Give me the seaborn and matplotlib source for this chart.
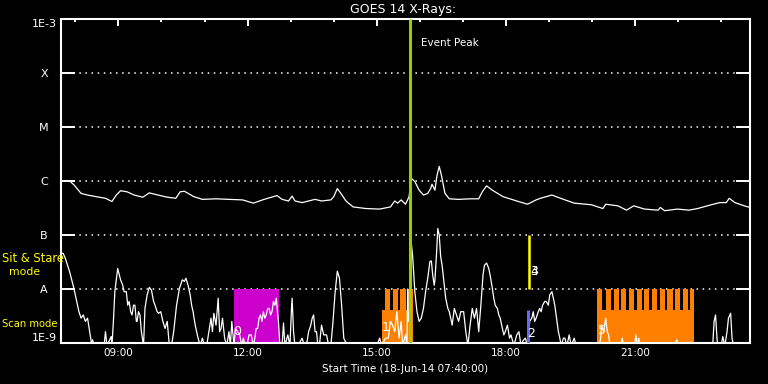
import pandas as pd
import numpy as np
import seaborn as sns
import matplotlib.pyplot as plt
import matplotlib.dates as mdates
from matplotlib.ticker import FixedLocator, NullLocator

# start of the plot window
start = pd.Timestamp("2014-06-18 07:40:00")
span_hours = 16

# long channel (1-8 A): minutes after start, log10 flux
long_min = [0, 12, 18, 28, 37, 49, 62, 71, 77, 83, 92, 102, 114, 123, 132, 148, 160, 166,
            172, 185, 197, 216, 234, 253, 268, 283, 301, 308, 317, 322, 326, 336, 354, 363,
            376, 380, 385, 391, 397, 407, 425, 444, 459, 465, 469, 474, 480, 485, 488, 493,
            499, 505, 511, 515, 517, 521, 524, 527, 530, 535, 541, 554, 570, 582, 587, 593,
            601, 616, 635, 650, 662, 668, 684, 696, 715, 739, 755, 759, 776, 788, 798, 813,
            832, 835, 841, 859, 875, 887, 906, 918, 927, 931, 939, 952, 960]
long_log = [-6.00, -6.00, -6.07, -6.23, -6.26, -6.29, -6.32, -6.38, -6.26, -6.18, -6.20,
            -6.26, -6.30, -6.22, -6.25, -6.30, -6.32, -6.20, -6.19, -6.29, -6.34, -6.33,
            -6.34, -6.35, -6.41, -6.34, -6.27, -6.34, -6.37, -6.28, -6.37, -6.40, -6.34,
            -6.37, -6.35, -6.29, -6.14, -6.25, -6.37, -6.48, -6.51, -6.52, -6.48, -6.37,
            -6.41, -6.35, -6.43, -6.29, -5.95, -6.01, -6.17, -6.26, -6.23, -6.14, -6.06,
            -6.17, -5.89, -5.73, -5.89, -6.23, -6.33, -6.34, -6.33, -6.33, -6.20, -6.09,
            -6.17, -6.29, -6.37, -6.43, -6.35, -6.32, -6.26, -6.32, -6.41, -6.44, -6.51,
            -6.43, -6.46, -6.54, -6.46, -6.52, -6.54, -6.49, -6.55, -6.52, -6.54, -6.51,
            -6.44, -6.40, -6.40, -6.32, -6.40, -6.46, -6.49]

# short channel (0.5-4 A)
short_min = [0, 3, 6, 12, 18, 23, 25, 28, 31, 34, 37, 40, 43, 44, 46, 60, 62, 64, 70, 71,
             73, 75, 79, 83, 86, 88, 91, 93, 95, 97, 99, 101, 103, 105, 106, 108, 110, 112,
             115, 117, 120, 123, 126, 129, 131, 134, 136, 139, 142, 145, 148, 151, 154, 157,
             161, 165, 169, 172, 174, 177, 180, 182, 184, 187, 191, 194, 197, 200, 203, 206,
             209, 211, 213, 216, 219, 221, 223, 225, 228, 231, 234, 236, 238, 241, 243, 246,
             249, 252, 254, 257, 259, 262, 265, 268, 270, 272, 274, 276, 278, 280, 282, 284,
             286, 288, 290, 292, 294, 296, 298, 300, 302, 303, 305, 308, 310, 312, 316, 319,
             321, 322, 324, 326, 330, 336, 339, 342, 345, 348, 350, 352, 354, 356, 358, 360,
             363, 366, 370, 373, 376, 379, 382, 385, 388, 391, 394, 399, 440, 444, 447, 452,
             456, 459, 462, 465, 468, 471, 474, 476, 480, 482, 483, 484, 486, 487, 488, 490,
             493, 496, 499, 502, 505, 508, 511, 514, 516, 518, 520, 521, 523, 525, 527, 529,
             531, 534, 536, 539, 541, 543, 545, 548, 551, 554, 557, 561, 564, 567, 570, 573,
             576, 579, 582, 585, 588, 590, 593, 596, 598, 601, 603, 605, 608, 610, 612, 614,
             617, 619, 622, 625, 627, 631, 635, 638, 641, 644, 647, 650, 653, 656, 658, 660,
             662, 665, 667, 669, 671, 674, 676, 679, 681, 684, 686, 688, 691, 693, 695, 697,
             700, 702, 705, 708, 711, 715, 718, 750, 752, 753, 756, 759, 761, 763, 765, 780,
             782, 784, 799, 801, 803, 805, 807, 855, 858, 860, 908, 910, 912, 914, 915, 920,
             922, 925, 928, 930, 933, 935, 937, 960]
short_log = [-7.34, -7.34, -7.43, -7.68, -7.99, -8.30, -8.42, -8.54, -8.48, -8.60, -8.54,
             -8.79, -9.05, -8.94, -9.05, -9.05, -8.79, -9.05, -8.88, -9.05, -8.60, -8.05,
             -7.62, -7.83, -7.93, -8.05, -8.05, -8.30, -8.23, -8.42, -8.48, -8.30, -8.30,
             -8.60, -8.60, -8.42, -8.48, -8.79, -9.05, -8.36, -8.11, -7.97, -8.02, -8.23,
             -8.30, -8.42, -8.45, -8.42, -8.60, -8.73, -8.60, -9.05, -9.05, -8.79, -8.30,
             -7.99, -7.83, -7.86, -7.80, -7.93, -8.11, -8.30, -8.42, -8.67, -8.91, -9.05,
             -8.91, -9.05, -9.05, -8.79, -8.54, -8.79, -8.45, -8.67, -8.17, -8.79, -8.73,
             -8.54, -8.91, -9.05, -8.79, -9.05, -8.60, -9.05, -8.73, -8.79, -8.85, -9.05,
             -8.91, -9.05, -9.05, -8.85, -8.85, -9.05, -8.91, -8.73, -8.73, -8.54, -8.48,
             -8.60, -8.42, -8.54, -8.48, -8.36, -8.36, -8.48, -8.42, -8.23, -8.30, -8.17,
             -8.48, -8.60, -9.05, -9.05, -8.63, -9.05, -8.85, -9.05, -8.40, -8.17, -8.79,
             -9.05, -9.05, -8.91, -9.05, -9.05, -8.79, -8.67, -8.54, -8.48, -8.79, -8.79,
             -9.05, -9.05, -8.67, -8.85, -8.85, -9.05, -9.05, -8.60, -8.05, -7.67, -7.80,
             -8.30, -8.91, -9.05, -9.05, -8.91, -9.05, -8.91, -8.91, -8.60, -8.67, -8.79,
             -8.42, -8.91, -8.60, -9.05, -8.85, -9.05, -8.00, -8.60, -8.36, -7.60, -7.14,
             -7.40, -8.05, -8.42, -8.60, -8.54, -8.36, -8.05, -7.80, -7.49, -7.48, -7.75,
             -7.93, -7.83, -7.40, -6.88, -7.00, -7.40, -7.56, -7.93, -8.17, -8.36, -8.42,
             -8.54, -8.67, -8.36, -8.48, -8.60, -8.42, -8.42, -8.79, -9.05, -8.67, -8.36,
             -8.54, -8.36, -8.79, -8.30, -7.74, -7.56, -7.52, -7.62, -7.75, -7.99, -8.17,
             -8.30, -8.36, -8.48, -8.54, -8.67, -8.85, -8.79, -8.67, -8.91, -8.85, -9.05,
             -8.85, -8.79, -9.05, -8.95, -8.91, -9.05, -8.60, -8.54, -8.42, -8.60, -8.54,
             -8.42, -8.36, -8.42, -8.30, -8.23, -8.23, -8.30, -8.11, -8.05, -8.17, -8.30,
             -8.60, -8.79, -8.91, -9.05, -8.91, -8.91, -9.05, -8.85, -9.05, -8.91, -9.05,
             -9.05, -8.91, -8.67, -8.79, -8.54, -8.79, -8.85, -9.05, -9.05, -8.91, -9.05,
             -9.05, -8.85, -9.05, -8.91, -9.05, -9.05, -8.94, -9.05, -9.05, -8.60, -8.48,
             -8.91, -9.05, -9.05, -8.88, -9.05, -8.79, -8.54, -8.45, -8.91, -9.05, -9.05]

level_vals = [1e-9, 1e-8, 1e-7, 1e-6, 1e-5, 1e-4, 1e-3]
level_labels = ["1E-9", "A", "B", "C", "M", "X", "1E-3"]

# events (minutes after start)
peak_min = 486.7
stare_min = 652.7
blue_min = 650.0
magenta_span = (240.4, 303.2)
scan_spans = [(447, 490), (747, 882)]
scan_bars = [451, 462, 473, 484,
             747, 759, 770, 780, 791, 802, 812, 823, 834, 845, 855, 866, 877]
bar_len = 7.2
scan_low_top = 10 ** -8.39
mark_text = ["0", "1", "2", "3", "4", "5"]
mark_min = [246, 452, 655, 659, 659, 754]
mark_log = [-8.78, -8.72, -8.83, -7.67, -7.67, -8.76]


def tnum(m):
    return mdates.date2num(start + pd.to_timedelta(m, unit="min"))


long_df = pd.DataFrame({"time": start + pd.to_timedelta(long_min, unit="min"),
                        "flux": np.power(10.0, long_log)})
short_df = pd.DataFrame({"time": start + pd.to_timedelta(short_min, unit="min"),
                         "flux": np.power(10.0, short_log)})

sns.set_theme(style="dark", rc={"axes.facecolor": "black", "figure.facecolor": "black",
                                "axes.edgecolor": "white", "text.color": "white"})
plt.rcParams["font.family"] = ["DejaVu Sans"]

fig = plt.figure(figsize=(7.68, 3.84), dpi=100)
ax = fig.add_axes([61 / 768, 41 / 384, 689 / 768, 324 / 384])
ax.set_facecolor("black")

# shaded observing modes
day = 1 / 1440.0
ax.bar(tnum(magenta_span[0]), 1e-8 - 1e-9, bottom=1e-9,
       width=(magenta_span[1] - magenta_span[0]) * day, align="edge",
       color="#cc00cc", linewidth=0, zorder=1)
for s0, s1 in scan_spans:
    ax.bar(tnum(s0), scan_low_top - 1e-9, bottom=1e-9, width=(s1 - s0) * day,
           align="edge", color="#ff8000", linewidth=0, zorder=1)
    for b in scan_bars:
        if s0 <= b < s1:
            w = min(bar_len, s1 - b)
            ax.bar(tnum(b), 1e-8 - scan_low_top, bottom=scan_low_top, width=w * day,
                   align="edge", color="#ff8000", linewidth=0, zorder=1)

sns.lineplot(data=long_df, x="time", y="flux", ax=ax, color="white", lw=0.9,
             estimator=None, zorder=3)
sns.lineplot(data=short_df, x="time", y="flux", ax=ax, color="white", lw=0.9,
             estimator=None, zorder=3)

ax.vlines(tnum(peak_min), 1e-9, 1e-3, color="#9acd00", lw=2.2, zorder=4)
ax.vlines(tnum(stare_min), 1e-8, 1e-7, color="#ffff00", lw=1.8, zorder=4)
ax.vlines(tnum(blue_min), 1e-9, scan_low_top, color="#6868f0", lw=2.2, zorder=4)

for txt, m, lg in zip(mark_text, mark_min, mark_log):
    ax.text(tnum(m), 10 ** lg, txt, color="white", fontsize=9, ha="center",
            va="center", zorder=5)
ax.text(tnum(501), 10 ** -3.44, "Event Peak", color="white", fontsize=7.5,
        ha="left", va="center")

ax.set_yscale("log")
ax.set_ylim(1e-9, 1e-3)
ax.set_xlim(tnum(0), tnum(span_hours * 60))
ax.yaxis.set_major_locator(FixedLocator(level_vals))
ax.yaxis.set_minor_locator(NullLocator())
ax.set_yticklabels(level_labels)
ax.xaxis.set_major_locator(mdates.HourLocator(byhour=range(0, 24, 3)))
ax.xaxis.set_minor_locator(mdates.HourLocator())
ax.xaxis.set_major_formatter(mdates.DateFormatter("%H:%M"))

ax.tick_params(axis="y", which="major", direction="in", length=10, width=1.4,
               left=True, right=True, pad=12.2, colors="white", labelsize=8)
ax.tick_params(axis="x", which="both", direction="in", top=True, bottom=False,
               labelbottom=True, labeltop=False, colors="white", labelsize=7.5,
               width=1.4, pad=3.5)
ax.tick_params(axis="x", which="major", length=5)
ax.tick_params(axis="x", which="minor", length=2.5)
labels = ax.get_yticklabels()
for lbl in labels:
    lbl.set_ha("center")
labels[0].set_va("bottom")
labels[-1].set_va("top")

ax.grid(False)
ax.yaxis.grid(True, color="white", linestyle=(0, (1, 3)), linewidth=1.1)
ax.set_axisbelow(True)
for sp in ax.spines.values():
    sp.set_visible(True)
    sp.set_color("white")
    sp.set_linewidth(1.5)
ax.set_xlabel("")
ax.set_ylabel("")

fig.text(403 / 768, 1 - 9 / 384, "GOES 14 X-Rays:", color="white", fontsize=9,
         ha="center", va="center")
fig.text(405 / 768, 1 - 369 / 384, "Start Time (18-Jun-14 07:40:00)", color="white",
         fontsize=7.5, ha="center", va="center")
fig.text(2 / 768, 1 - 259 / 384, "Sit & Stare", color="#ffff00", fontsize=8.3,
         ha="left", va="center", zorder=6)
fig.text(24.5 / 768, 1 - 272 / 384, "mode", color="#ffff00", fontsize=7.8,
         ha="center", va="center")
fig.text(2 / 768, 1 - 324 / 384, "Scan mode", color="#ffff00", fontsize=7.2,
         ha="left", va="center")

fig.savefig("out.png", dpi=100, facecolor="black")
